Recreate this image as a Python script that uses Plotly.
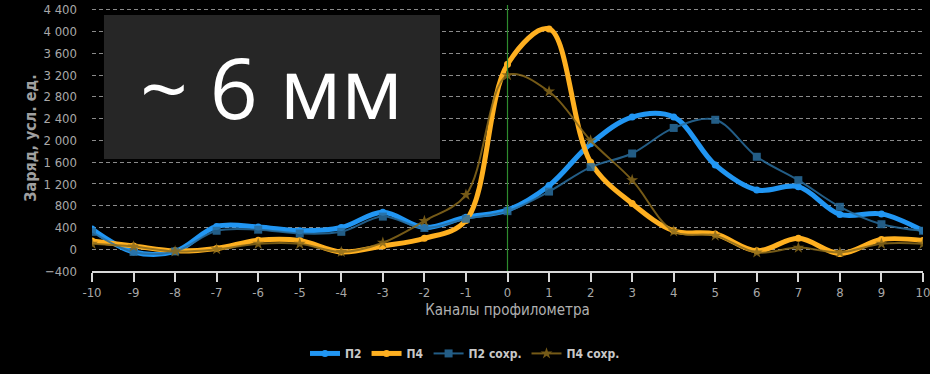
import plotly.graph_objects as go

# Profilometer channels
channels = list(range(-10, 11))

# Charge values, arbitrary units
p2 = [370, -50, -40, 420, 410, 340, 400, 680, 400, 590, 720, 1170, 1940, 2430, 2430,
      1550, 1090, 1150, 640, 650, 340]
p4 = [150, 60, -30, 15, 165, 160, -50, 60, 200, 530, 3400, 4050, 1600, 840, 340,
      280, -30, 200, -80, 180, 160]
p2_saved = [320, -50, -40, 340, 360, 290, 320, 600, 390, 560, 700, 1060, 1510, 1760, 2230,
            2380, 1700, 1270, 780, 460, 340]
p4_saved = [100, 50, -40, 0, 100, 100, -50, 120, 520, 1000, 3200, 2900, 2000, 1270, 330,
            250, -60, 30, -60, 100, 100]

y_ticks = list(range(-400, 4401, 400))

FONT = "DejaVu Sans Condensed, Liberation Sans Narrow, Roboto, sans-serif"

fig = go.Figure()

fig.add_trace(go.Scatter(
    x=channels, y=p2, name="П2", mode="lines+markers",
    line=dict(color="#2196F3", width=5, shape="spline", smoothing=1.0),
    marker=dict(symbol="circle", size=7, color="#2196F3"),
))
fig.add_trace(go.Scatter(
    x=channels, y=p4, name="П4", mode="lines+markers",
    line=dict(color="#FFB020", width=5, shape="spline", smoothing=1.0),
    marker=dict(symbol="circle", size=7, color="#FFB020"),
))
fig.add_trace(go.Scatter(
    x=channels, y=p2_saved, name="П2 сохр.", mode="lines+markers",
    line=dict(color="#2A6E9E", width=2, shape="spline", smoothing=1.0),
    marker=dict(symbol="square", size=8, color="#2A6E9E"),
    opacity=0.85,
))
fig.add_trace(go.Scatter(
    x=channels, y=p4_saved, name="П4 сохр.", mode="lines+markers",
    line=dict(color="#8A6A1C", width=2, shape="spline", smoothing=1.0),
    marker=dict(symbol="star", size=9, color="#8A6A1C"),
    opacity=0.85,
))

axis_font = dict(family=FONT, size=13, color="#A8A8A8")

fig.update_layout(
    width=930, height=374,
    margin=dict(l=92, r=7, t=5, b=103),
    paper_bgcolor="#000000",
    plot_bgcolor="#000000",
    separators=". ",
    showlegend=True,
    legend=dict(
        orientation="h",
        xref="container", yref="container",
        x=0.5, xanchor="center", y=0.055, yanchor="middle",
        font=dict(family=FONT, size=12, color="#C8C8C8", weight="bold"),
        itemwidth=30, bgcolor="rgba(0,0,0,0)",
    ),
    xaxis=dict(
        range=[-10, 10], tickvals=channels, ticktext=[str(c) for c in channels],
        showgrid=False, zeroline=False, automargin=False,
        ticklabeloverflow="allow",
        showline=True, linecolor="#D8D8D8", linewidth=1.5,
        ticks="outside", ticklen=9, tickcolor="#D8D8D8", tickwidth=1.5,
        tickfont=axis_font,
        title=dict(text="Каналы профилометра",
                   font=dict(family=FONT, size=15, color="#B0B0B0"),
                   standoff=5),
    ),
    yaxis=dict(
        range=[-400, 4490], tickvals=y_ticks, tickformat=",d",
        showgrid=True, gridcolor="#8A8A8A", gridwidth=1, griddash="4px,3px",
        zeroline=False, showline=False, ticks="", automargin=False,
        tickfont=axis_font, ticklabelstandoff=14,
        title=dict(text="Заряд, усл. ед.",
                   font=dict(family=FONT, size=16, color="#A0A0A0", weight="bold"),
                   standoff=2),
    ),
)

# Vertical marker at the central channel
fig.add_shape(type="line", xref="x", yref="paper", x0=0, x1=0, y0=0, y1=1,
              line=dict(color="#2E8B2E", width=1.2), layer="above")

# Caption box
fig.add_shape(type="rect", xref="paper", yref="paper",
              x0=0.0144, x1=0.4188, y0=0.421, y1=0.962,
              fillcolor="#262626", line=dict(width=0), layer="above")
fig.add_annotation(xref="paper", yref="paper", x=0.2166, y=0.694,
                   text="~ 6 мм", showarrow=False,
                   font=dict(family="Open Sans, Noto Sans, sans-serif", size=84, color="#FFFFFF"),
                   xanchor="center", yanchor="middle")

fig.write_html("out.html")
